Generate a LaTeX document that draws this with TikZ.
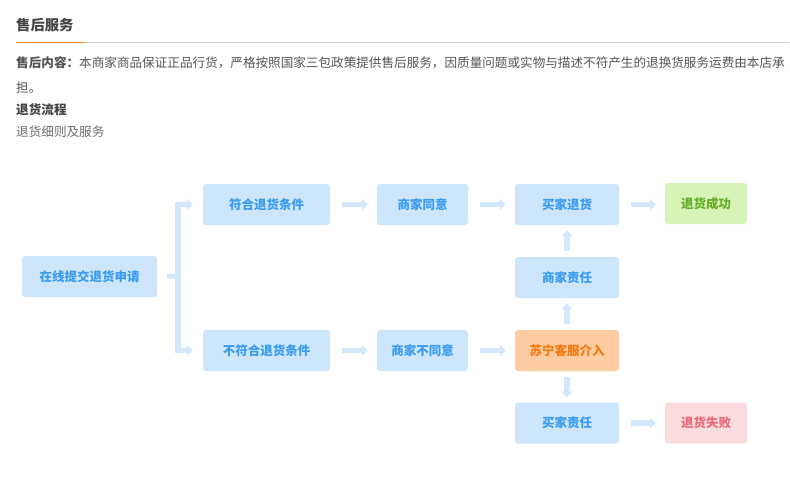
\documentclass[tikz,border=0pt]{standalone}
\usepackage{fontspec}
\newfontfamily\cjk{Noto Sans CJK SC}
\usetikzlibrary{arrows.meta,calc}
\definecolor{boxblue}{HTML}{CDE6FC}
\definecolor{txtblue}{HTML}{3A9BEF}
\definecolor{boxgreen}{HTML}{D8F3B6}
\definecolor{txtgreen}{HTML}{66AD2A}
\definecolor{boxorange}{HTML}{FFCBA0}
\definecolor{txtorange}{HTML}{F27B12}
\definecolor{boxpink}{HTML}{FADCDF}
\definecolor{txtpink}{HTML}{E56D78}
\definecolor{arrowc}{HTML}{D3E8FC}
\definecolor{headc}{HTML}{444444}
\definecolor{bodyc}{HTML}{555555}
\definecolor{linegray}{HTML}{CCCCCC}
\definecolor{lineorange}{HTML}{FF8A1E}
\tikzset{
  x=1pt, y=-1pt,
  flowbox/.style={rounded corners=3pt, inner sep=0pt, font=\cjk\bfseries\fontsize{12.5}{14}\selectfont},
  bluebox/.style={flowbox, fill=boxblue, text=txtblue},
  greenbox/.style={flowbox, fill=boxgreen, text=txtgreen},
  orangebox/.style={flowbox, fill=boxorange, text=txtorange},
  pinkbox/.style={flowbox, fill=boxpink, text=txtpink},
  thickline/.style={draw=arrowc, line width=5.5pt},
  arr/.style={thickline, -{Triangle[width=11pt,length=6pt]}},
  harr/.style={arr, shorten <=12pt, shorten >=9pt},
  varr/.style={arr, shorten <=6pt, shorten >=5pt},
  bodytext/.style={anchor=west, inner sep=0pt, text=bodyc, font=\cjk\fontsize{12.6}{15}\selectfont}
}
\begin{document}
\begin{tikzpicture}
\useasboundingbox (0,0) rectangle (790,488);
\fill[white] (0,0) rectangle (790,488);
% header
\node[anchor=west, inner sep=0pt, text=headc, font=\cjk\bfseries\fontsize{14.3}{16}\selectfont] (title) at (16,25) {售后服务};
\coordinate (l0) at (16,42.5);
\coordinate (l1) at (85,42.5);
\coordinate (l2) at (789,42.5);
\draw[linegray, line width=1.5pt] (l1) -- (l2);
\draw[lineorange, line width=1.5pt] (l0) -- (l1);
\node[bodytext] (t1) at (16,63) {\textbf{售后内容：}本商家商品保证正品行货，严格按照国家三包政策提供售后服务，因质量问题或实物与描述不符产生的退换货服务运费由本店承};
\node[bodytext] (t2) at (16,88) {担。};
\node[bodytext, font=\cjk\bfseries\fontsize{12.6}{15}\selectfont, text=headc] (t3) at (16,110) {退货流程};
\node[bodytext, text=bodyc!85] (t4) at (16,132) {退货细则及服务};
% boxes
\node[bluebox, minimum width=135pt, minimum height=41pt] (start) at (89.5,276.5) {在线提交退货申请};
\node[bluebox, minimum width=127pt, minimum height=41pt] (ok) at (266.5,204.5) {符合退货条件};
\node[bluebox, minimum width=127pt, minimum height=41pt] (nok) at (266.5,350.5) {不符合退货条件};
\node[bluebox, minimum width=91pt, minimum height=41pt] (agree) at (422.5,204.5) {商家同意};
\node[bluebox, minimum width=91pt, minimum height=41pt] (disagree) at (422.5,350.5) {商家不同意};
\node[bluebox, minimum width=104pt, minimum height=41pt] (ret) at (567,204.5) {买家退货};
\node[bluebox, minimum width=104pt, minimum height=41pt] (seller) at (567,277.5) {商家责任};
\node[orangebox, minimum width=104pt, minimum height=41pt] (cs) at (567,350.5) {苏宁客服介入};
\node[bluebox, minimum width=104pt, minimum height=41pt] (buyer) at (567,423) {买家责任};
\node[greenbox, minimum width=82pt, minimum height=41pt] (succ) at (706,203.5) {退货成功};
\node[pinkbox, minimum width=82pt, minimum height=41pt] (fail) at (706,423) {退货失败};
% branch
\coordinate (br) at (178,276.5);
\coordinate (brs) at (167,276.5);
\coordinate (okin) at ($(ok.west)+(-10,0)$);
\coordinate (nokin) at ($(nok.west)+(-10,0)$);
\draw[thickline] (brs) -- (br);
\draw[arr] (br) |- (okin);
\draw[arr] (br) |- (nokin);
% arrows
\draw[harr] (ok) -- (agree);
\draw[harr] (agree) -- (ret);
\draw[harr] (ret) -- (ret -| succ.west);
\draw[harr] (nok) -- (disagree);
\draw[harr] (disagree) -- (cs);
\draw[harr] (buyer) -- (fail);
\draw[varr] (seller) -- (ret);
\draw[varr] (cs) -- (seller);
\draw[varr] (cs) -- (buyer);
\end{tikzpicture}
\end{document}
